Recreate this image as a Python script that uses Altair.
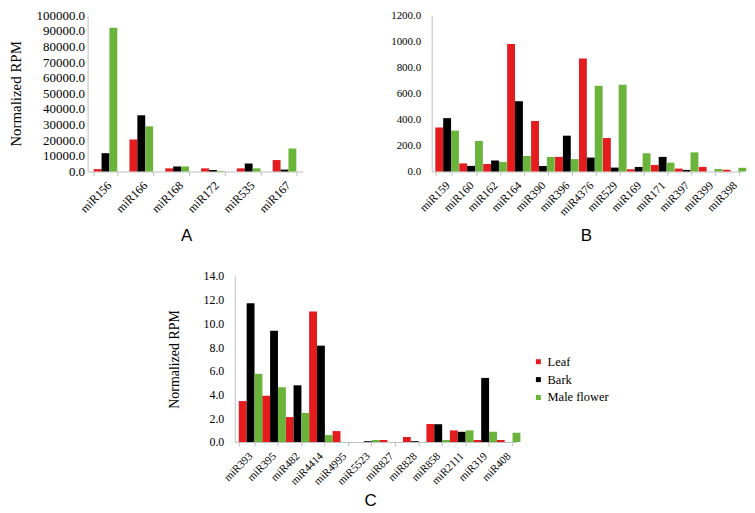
import altair as alt
import pandas as pd

# ---------------- data ----------------
tissues = ["Leaf", "Bark", "Male flower"]
tissue_colors = ["#E41B1F", "#000000", "#6BB43B"]

a_mirna = ["miR156", "miR166", "miR168", "miR172", "miR535", "miR167"]
a_leaf = [1500, 20500, 2000, 2000, 2000, 7300]
a_bark = [11700, 36000, 3200, 1000, 5100, 1200]
a_male = [92000, 28900, 3200, 400, 2000, 14700]

b_mirna = ["miR159", "miR160", "miR162", "miR164", "miR390", "miR396", "miR4376",
           "miR529", "miR169", "miR171", "miR397", "miR399", "miR398"]
b_leaf = [338, 62, 57, 980, 388, 112, 868, 257, 17, 50, 22, 35, 13]
b_bark = [410, 43, 84, 540, 42, 275, 107, 30, 35, 112, 12, 0, 0]
b_male = [314, 234, 74, 119, 112, 95, 658, 667, 140, 68, 147, 19, 28]

c_mirna = ["miR393", "miR395", "miR482", "miR4414", "miR4995", "miR5523", "miR827",
           "miR828", "miR858", "miR2111", "miR319", "miR408"]
c_leaf = [3.45, 3.9, 2.1, 11.0, 0.92, 0.0, 0.17, 0.42, 1.52, 0.98, 0.17, 0.17]
c_bark = [11.7, 9.38, 4.78, 8.12, 0.0, 0.07, 0.0, 0.07, 1.5, 0.86, 5.4, 0.0]
c_male = [5.75, 4.62, 2.45, 0.58, 0.0, 0.17, 0.0, 0.0, 0.17, 0.98, 0.87, 0.78]

SERIF = "Liberation Serif, Times New Roman, DejaVu Serif, serif"
SANS = "Liberation Sans, Arial, sans-serif"
GRAY = "#BFBFBF"


def long_table(cats, leaf, bark, male):
    n = len(cats)
    return pd.DataFrame({
        "miRNA": list(cats) * 3,
        "tissue": [tissues[0]] * n + [tissues[1]] * n + [tissues[2]] * n,
        "rpm": list(leaf) + list(bark) + list(male),
    })


def panel(cats, leaf, bark, male, ymax, ystep, width, height,
          ylab_size, ylab_pad, ytitle, ytitle_size, ytitle_pad,
          xlab_size, letter, letter_x, letter_y, pad_inner, legend):
    df = long_table(cats, leaf, bark, male)
    nsteps = int(round(ymax / ystep))
    yvals = [i * ystep for i in range(nsteps + 1)]

    yk = dict(values=yvals, format=".1f", ticks=False, tickSize=0, grid=False,
              domainColor=GRAY, labelFont=SERIF, labelFontSize=ylab_size,
              labelColor="#000000", labelPadding=ylab_pad)
    if ytitle:
        yk.update(title=ytitle, titleFont=SERIF, titleFontSize=ytitle_size,
                  titleFontWeight="normal", titleColor="#000000",
                  titlePadding=ytitle_pad)
    else:
        yk.update(title=None)

    xk = dict(title=letter, titleFont=SANS, titleFontSize=17,
              titleFontWeight="normal", titleColor="#000000",
              titleX=letter_x, titleY=letter_y, titleAlign="center",
              titleBaseline="alphabetic", titleAngle=0,
              labelAngle=-45, labelAlign="right", labelBaseline="top",
              labelFont=SERIF, labelFontSize=xlab_size, labelColor="#000000",
              labelPadding=4, labelOverlap=False, tickBand="extent",
              tickSize=4, tickColor=GRAY, domainColor=GRAY, grid=False)

    if legend:
        leg = alt.Legend(title=None, orient="none", legendX=299, legendY=80,
                         symbolType="square", symbolSize=25, symbolStrokeWidth=0,
                         labelFont=SERIF, labelFontSize=12.5, labelColor="#000000",
                         rowPadding=5, labelOffset=3, padding=0)
    else:
        leg = None

    return alt.Chart(df).mark_bar().encode(
        x=alt.X("miRNA:N", sort=list(cats),
                scale=alt.Scale(paddingInner=pad_inner, paddingOuter=pad_inner / 2),
                axis=alt.Axis(**xk)),
        xOffset=alt.XOffset("tissue:N", sort=tissues,
                            scale=alt.Scale(paddingInner=0, paddingOuter=0)),
        y=alt.Y("rpm:Q", scale=alt.Scale(domain=[0, ymax], nice=False, zero=True),
                axis=alt.Axis(**yk)),
        color=alt.Color("tissue:N", sort=tissues,
                        scale=alt.Scale(domain=tissues, range=tissue_colors),
                        legend=leg),
    ).properties(width=width, height=height)


chart_a = panel(a_mirna, a_leaf, a_bark, a_male, 100000, 10000, 216, 157,
                13, 3, "Normalized RPM", 15, 13, 12, "A", 99, 69.5, 0.34, False)
chart_b = panel(b_mirna, b_leaf, b_bark, b_male, 1200, 200, 313, 157,
                11, 11, None, 0, 0, 11.5, "B", 155, 69.5, 0.3, False)
chart_c = panel(c_mirna, c_leaf, c_bark, c_male, 14, 2, 283, 167,
                12, 11, "Normalized RPM", 14, 22, 11, "C", 136, 64, 0.34, True)

spacer = alt.Chart(pd.DataFrame({"v": [0]})).mark_point(size=0, opacity=0).encode(
    x=alt.value(0.5), y=alt.value(0.5)
).properties(width=1, height=1)

row1 = alt.hconcat(chart_a, chart_b, spacing=88).resolve_scale(color="independent")
row2 = alt.hconcat(spacer, chart_c, spacing=79).resolve_scale(color="independent")

chart = alt.vconcat(row1, row2, spacing=26).resolve_scale(
    color="independent"
).properties(padding=0).configure_view(stroke=None)

chart.save("out.html", embed_options={"renderer": "svg", "actions": False})
